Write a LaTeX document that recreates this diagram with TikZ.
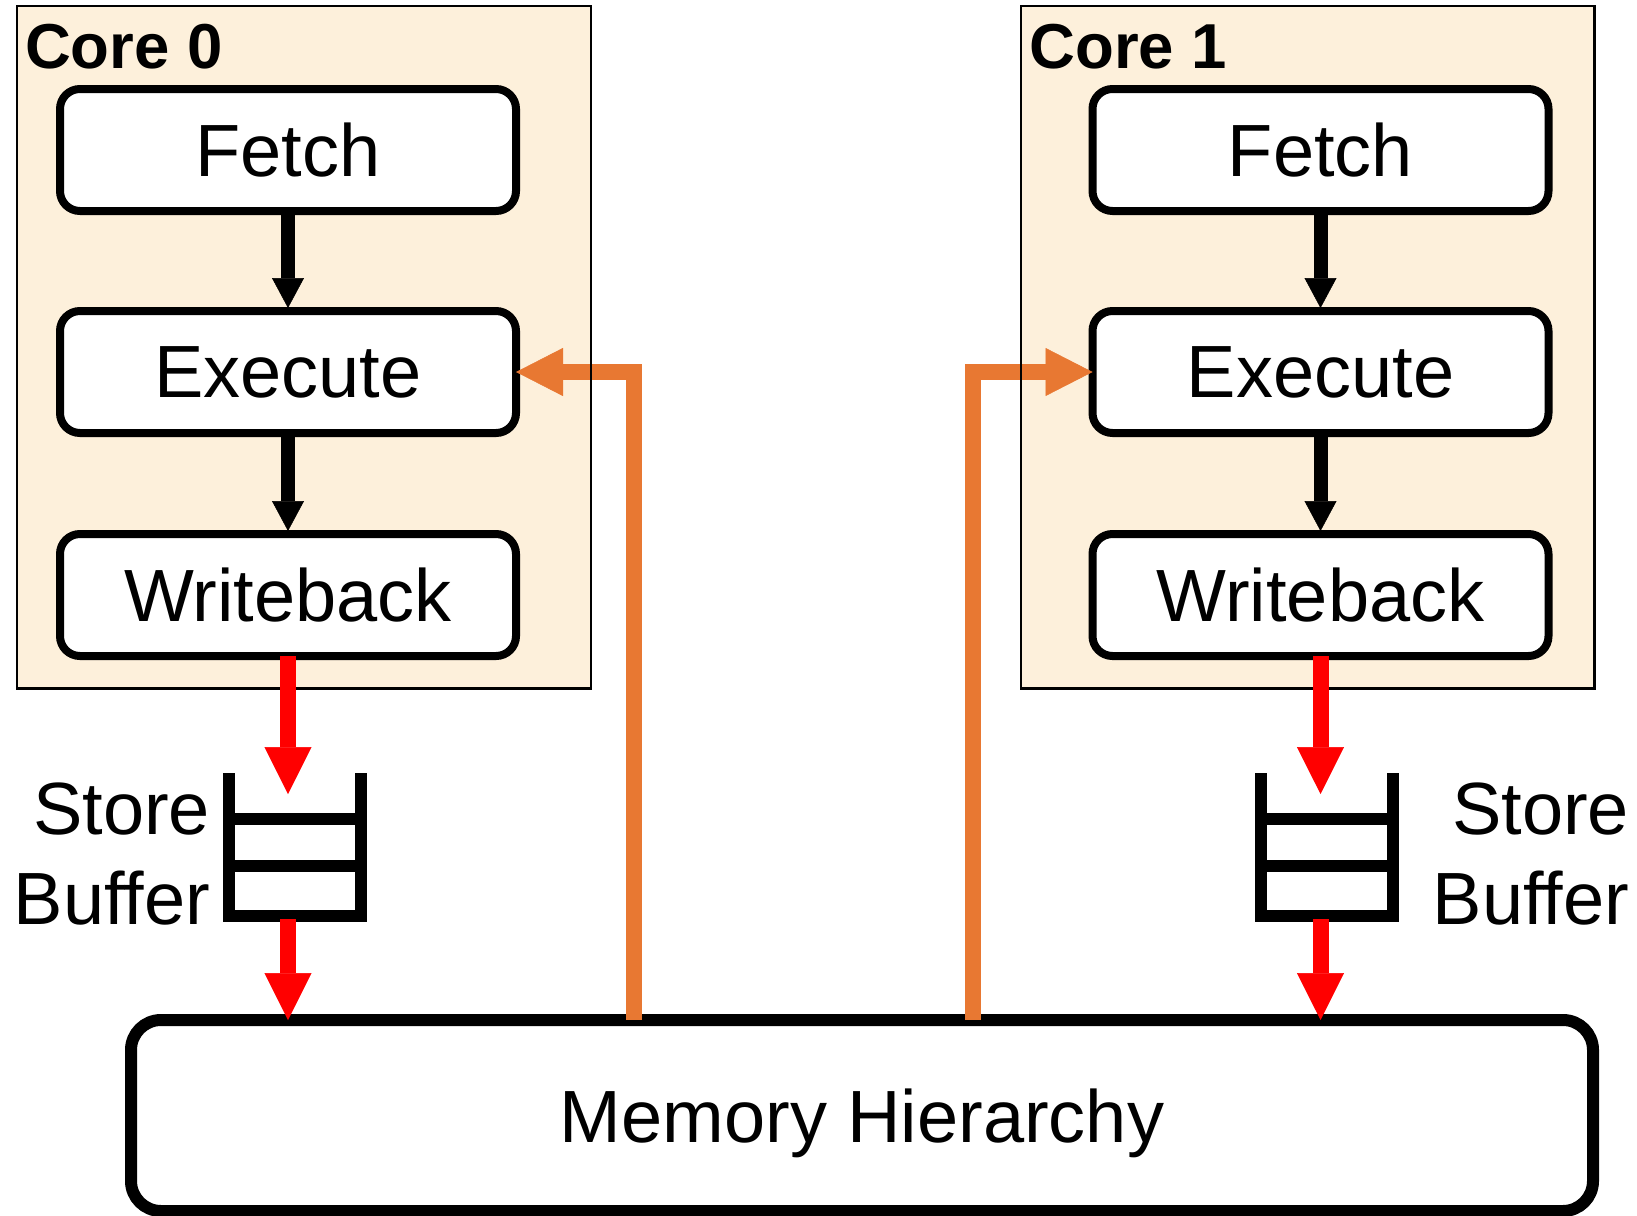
\documentclass[tikz,border=0pt]{standalone}
\usepackage{fontspec}
\setmainfont{Liberation Sans}
\usetikzlibrary{arrows.meta}
\definecolor{cream}{HTML}{FDF0DB}
\definecolor{orng}{HTML}{E87832}
\begin{document}
\begin{tikzpicture}[x=1pt,y=-1pt,
  corefill/.style={fill=cream, draw=none, inner sep=0, outer sep=0, anchor=north west},
  coreline/.style={draw=black, line width=2.5pt},
  stage/.style={draw=black, line width=8pt, rounded corners=20pt, fill=white,
    minimum width=456pt, minimum height=122pt, inner sep=0, outer sep=0,
    font=\fontsize{74}{88}\selectfont},
  corelabel/.style={anchor=base west, inner sep=0, outer sep=0,
    font=\bfseries\fontsize{63.5}{74}\selectfont},
  sblabel/.style={anchor=base east, inner sep=0, outer sep=0,
    font=\fontsize{74}{88}\selectfont},
  blackarrow/.style={draw=black, line width=14pt, shorten >=3pt,
    -{Triangle[length=30pt,width=32pt,line width=0.5pt]}},
  redarrow/.style={draw=red, line width=16pt,
    -{Triangle[length=47pt,width=47pt,line width=0.5pt]}},
  orangearrow/.style={draw=orng, line width=16pt, line join=miter,
    -{Triangle[length=47pt,width=48pt,line width=0.5pt]}},
  bufline/.style={draw=black, line width=12pt, line join=miter},
]
\useasboundingbox (0,0) rectangle (1637,1215);
\fill[white] (0,0) rectangle (1637,1215);

% core backgrounds
\node[corefill, minimum width=574pt, minimum height=682.5pt] (core0) at (17,6) {};
\node[corefill, minimum width=573.5pt, minimum height=682.5pt] (core1) at (1021,6) {};

\node[corelabel] (core0lbl) at (25,68) {Core 0};
\node[corelabel] (core1lbl) at (1029.5,68) {Core 1};

% pipeline stages
\node[stage] (fetch0) at (288,150) {Fetch};
\node[stage] (exec0) at (288,372) {Execute};
\node[stage] (wb0) at (288,595) {Writeback};
\node[stage] (fetch1) at (1320.5,150) {Fetch};
\node[stage] (exec1) at (1320.5,372) {Execute};
\node[stage] (wb1) at (1320.5,595) {Writeback};

\draw[blackarrow] (fetch0) -- (exec0);
\draw[blackarrow] (exec0) -- (wb0);
\draw[blackarrow] (fetch1) -- (exec1);
\draw[blackarrow] (exec1) -- (wb1);

% memory hierarchy
\node[draw=black, line width=12pt, rounded corners=30pt, fill=white,
  minimum width=1462pt, minimum height=191pt, inner sep=0, outer sep=0,
  text depth=0pt, font=\fontsize{74}{88}\selectfont] (mh) at (862,1115.5) {Memory Hierarchy};

% orange connectors
\path (mh.north) ++(-228,0) coordinate (o0);
\path (mh.north) ++(111,0) coordinate (o1);
\draw[orangearrow] (o0) |- (exec0.east);
\draw[orangearrow] (o1) |- (exec1.west);

% core borders on top
\draw[coreline] (core0.north west) rectangle (core0.south east);
\draw[coreline] (core1.north west) rectangle (core1.south east);

% store buffers
\draw[bufline] (229,773) -- (229,915.5) -- (360.5,915.5) -- (360.5,773);
\draw[bufline] (229,818.5) -- (360.5,818.5);
\draw[bufline] (229,866) -- (360.5,866);
\draw[bufline] (1261,773) -- (1261,915.5) -- (1393,915.5) -- (1393,773);
\draw[bufline] (1261,818.5) -- (1393,818.5);
\draw[bufline] (1261,866) -- (1393,866);

\node[sblabel] (store0) at (210,834) {Store};
\node[sblabel] (buffer0) at (210,924) {Buffer};
\node[sblabel] (store1) at (1629,834) {Store};
\node[sblabel] (buffer1) at (1629,924) {Buffer};

\coordinate (sb0in) at (288,794);
\coordinate (sb0out) at (288,919);
\coordinate (sb1in) at (1320.5,794);
\coordinate (sb1out) at (1320.5,919);

% red connectors
\draw[redarrow] (wb0.south) -- (sb0in);
\draw[redarrow] (sb0out) -- (sb0out |- mh.north);
\draw[redarrow] (wb1.south) -- (sb1in);
\draw[redarrow] (sb1out) -- (sb1out |- mh.north);
\end{tikzpicture}
\end{document}
